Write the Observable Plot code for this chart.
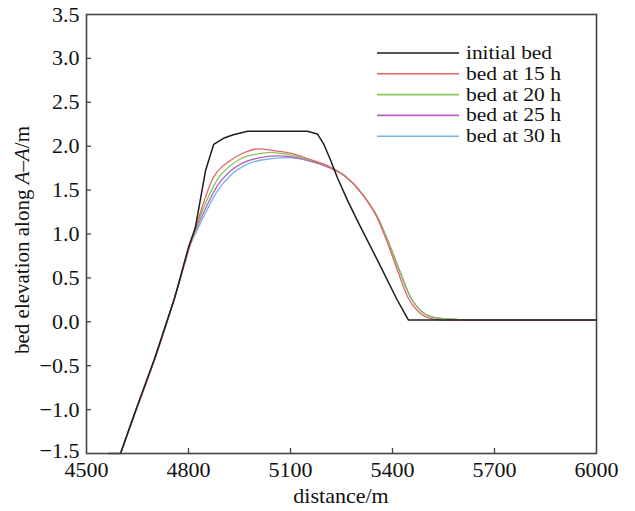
<!DOCTYPE html>
<html><head><meta charset="utf-8">
<script src="https://cdn.jsdelivr.net/npm/d3@7"></script>
<script src="https://cdn.jsdelivr.net/npm/@observablehq/plot@0.6"></script>
<style>
body{margin:0;background:#fff;}
#wrap{position:relative;width:635px;height:511px;font-family:"Liberation Serif",serif;}
#legend{position:absolute;left:0;top:0;pointer-events:none;}
</style></head><body><div id="wrap"></div>
<script>
// ---- data ----
const seriesNames = ["initial bed", "bed at 15 h", "bed at 20 h", "bed at 25 h", "bed at 30 h"];
const seriesColors = ["#1e1e1e", "#e26565", "#86c95a", "#b463c4", "#78b4e2"];

const initDist = [4565, 4600, 4640, 4700, 4760, 4800, 4820, 4850, 4874, 4903, 4932, 4974, 5050, 5150, 5179, 5197, 5218, 5238, 5268, 5297, 5356, 5415, 5447, 5500, 5600, 6000];
const initElev = [-1.5, -1.5, -1.06, -0.42, 0.28, 0.85, 1.07, 1.72, 2.02, 2.09, 2.13, 2.17, 2.17, 2.17, 2.14, 2.03, 1.84, 1.64, 1.38, 1.15, 0.70, 0.24, 0.02, 0.02, 0.02, 0.02];

const h15Dist = [4600, 4638, 4709, 4768, 4806, 4820, 4850, 4870, 4885, 4924, 4960, 5006, 5050, 5100, 5150, 5218, 5260, 5310, 5354, 5390, 5418, 5445, 5475, 5510, 5550, 5650, 6000];
const h15Elev = [-1.5, -1.09, -0.33, 0.39, 0.89, 1.06, 1.42, 1.62, 1.71, 1.84, 1.92, 1.97, 1.95, 1.92, 1.86, 1.76, 1.66, 1.46, 1.19, 0.85, 0.55, 0.28, 0.12, 0.04, 0.02, 0.02, 0.02];

const h20Dist = [4600, 4638, 4709, 4768, 4806, 4820, 4850, 4885, 4924, 4960, 5000, 5041, 5100, 5150, 5218, 5260, 5310, 5356, 5394, 5424, 5453, 5482, 5521, 5571, 5650, 6000];
const h20Elev = [-1.5, -1.09, -0.33, 0.39, 0.89, 1.05, 1.35, 1.62, 1.78, 1.87, 1.91, 1.93, 1.90, 1.85, 1.76, 1.66, 1.46, 1.19, 0.85, 0.55, 0.28, 0.13, 0.05, 0.03, 0.02, 0.02];

const h25Dist = [4600, 4638, 4709, 4768, 4806, 4820, 4850, 4885, 4924, 4960, 5010, 5061, 5100, 5150, 5218, 5260, 5310, 5356, 5394, 5424, 5453, 5482, 5521, 5571, 5650, 6000];
const h25Elev = [-1.5, -1.09, -0.33, 0.39, 0.89, 1.03, 1.29, 1.55, 1.72, 1.81, 1.87, 1.89, 1.88, 1.84, 1.75, 1.66, 1.46, 1.19, 0.85, 0.55, 0.28, 0.13, 0.05, 0.03, 0.02, 0.02];

const h30Dist = [4600, 4638, 4709, 4768, 4806, 4820, 4850, 4885, 4924, 4960, 5010, 5091, 5150, 5218, 5260, 5310, 5356, 5394, 5424, 5453, 5482, 5521, 5571, 5650, 6000];
const h30Elev = [-1.5, -1.09, -0.33, 0.39, 0.89, 1.00, 1.24, 1.49, 1.67, 1.77, 1.84, 1.87, 1.84, 1.75, 1.66, 1.46, 1.19, 0.85, 0.55, 0.28, 0.13, 0.05, 0.03, 0.02, 0.02];

const xTicks = [4500, 4800, 5100, 5400, 5700, 6000];
const yTicks = [-1.5, -1.0, -0.5, 0.0, 0.5, 1.0, 1.5, 2.0, 2.5, 3.0, 3.5];

// ---- build table ----
const distArrays = [initDist, h15Dist, h20Dist, h25Dist, h30Dist];
const elevArrays = [initElev, h15Elev, h20Elev, h25Elev, h30Elev];
const rows = [];
seriesNames.forEach((name, i) => {
  distArrays[i].forEach((d, j) => rows.push({series: name, dist: d, elev: elevArrays[i][j]}));
});

const W = 635, H = 511;
const mL = 86, mR = 39, mT = 14, mB = 58;
const plotW = W - mL - mR, plotH = H - mT - mB;
const tickLen = 5;
const FS = 22;
const fmt = d3.format(".1f");

const chart = Plot.plot({
  width: W, height: H,
  marginLeft: mL, marginRight: mR, marginTop: mT, marginBottom: mB,
  style: {fontFamily: "'Liberation Serif', serif", fontSize: FS + "px", background: "#fff", color: "#111"},
  x: {domain: [4500, 6000]},
  y: {domain: [-1.5, 3.5]},
  color: {domain: seriesNames, range: seriesColors},
  marks: [
    Plot.line(rows.filter(r => r.series !== seriesNames[0]).reverse(), {x: "dist", y: "elev", z: "series", stroke: "series", strokeWidth: 1.3, curve: "monotone-x"}),
    Plot.line(rows.filter(r => r.series === seriesNames[0]), {x: "dist", y: "elev", stroke: "series", strokeWidth: 1.5}),
    // inward ticks
    Plot.tickX(xTicks.slice(1, -1), {x: d => d, stroke: "#444", strokeWidth: 1.3, insetTop: plotH - tickLen}),
    Plot.tickY(yTicks.slice(1, -1), {y: d => d, stroke: "#444", strokeWidth: 1.3, insetRight: plotW - tickLen}),
    Plot.frame({stroke: "#444", strokeWidth: 1.6}),
    Plot.axisX(xTicks, {anchor: "bottom", tickSize: 0, tickPadding: 8, fontSize: FS, label: null, tickFormat: d => String(d)}),
    Plot.axisY(yTicks.slice(1), {anchor: "left", tickSize: 0, tickPadding: 7, fontSize: FS, label: null, tickFormat: fmt}),
    Plot.axisY(yTicks.slice(0, 1), {anchor: "left", tickSize: 0, tickPadding: 7, dy: -3, fontSize: FS, label: null, tickFormat: fmt})
  ]
});

const wrap = document.getElementById("wrap");
wrap.appendChild(chart);

// axis titles
const svg = d3.select(chart);
svg.append("text")
  .attr("x", 341).attr("y", 503)
  .attr("text-anchor", "middle")
  .attr("font-size", FS).attr("fill", "#111")
  .text("distance/m");
const yl = svg.append("text")
  .attr("transform", "translate(29,240) rotate(-90)")
  .attr("text-anchor", "middle")
  .attr("font-size", 21).attr("fill", "#111");
yl.append("tspan").text("bed elevation along ");
yl.append("tspan").attr("font-style", "italic").text("A");
yl.append("tspan").text("\u2013");
yl.append("tspan").attr("font-style", "italic").text("A");
yl.append("tspan").text("/m");

// legend
const legendWidths = [86, 95, 95, 95, 95];
const leg = d3.select(wrap).append("svg").attr("id", "legend").attr("width", W).attr("height", H);
seriesNames.forEach((name, i) => {
  const cy = 53 + i * 20.8;
  leg.append("line").attr("x1", 377).attr("x2", 459).attr("y1", cy).attr("y2", cy)
    .attr("stroke", seriesColors[i]).attr("stroke-width", 1.6);
  leg.append("text").attr("x", 466).attr("y", cy + 6)
    .attr("font-family", "'Liberation Serif', serif").attr("font-size", 18).attr("fill", "#111")
    .attr("textLength", legendWidths[i]).attr("lengthAdjust", "spacingAndGlyphs")
    .text(name);
});
</script></body></html>
